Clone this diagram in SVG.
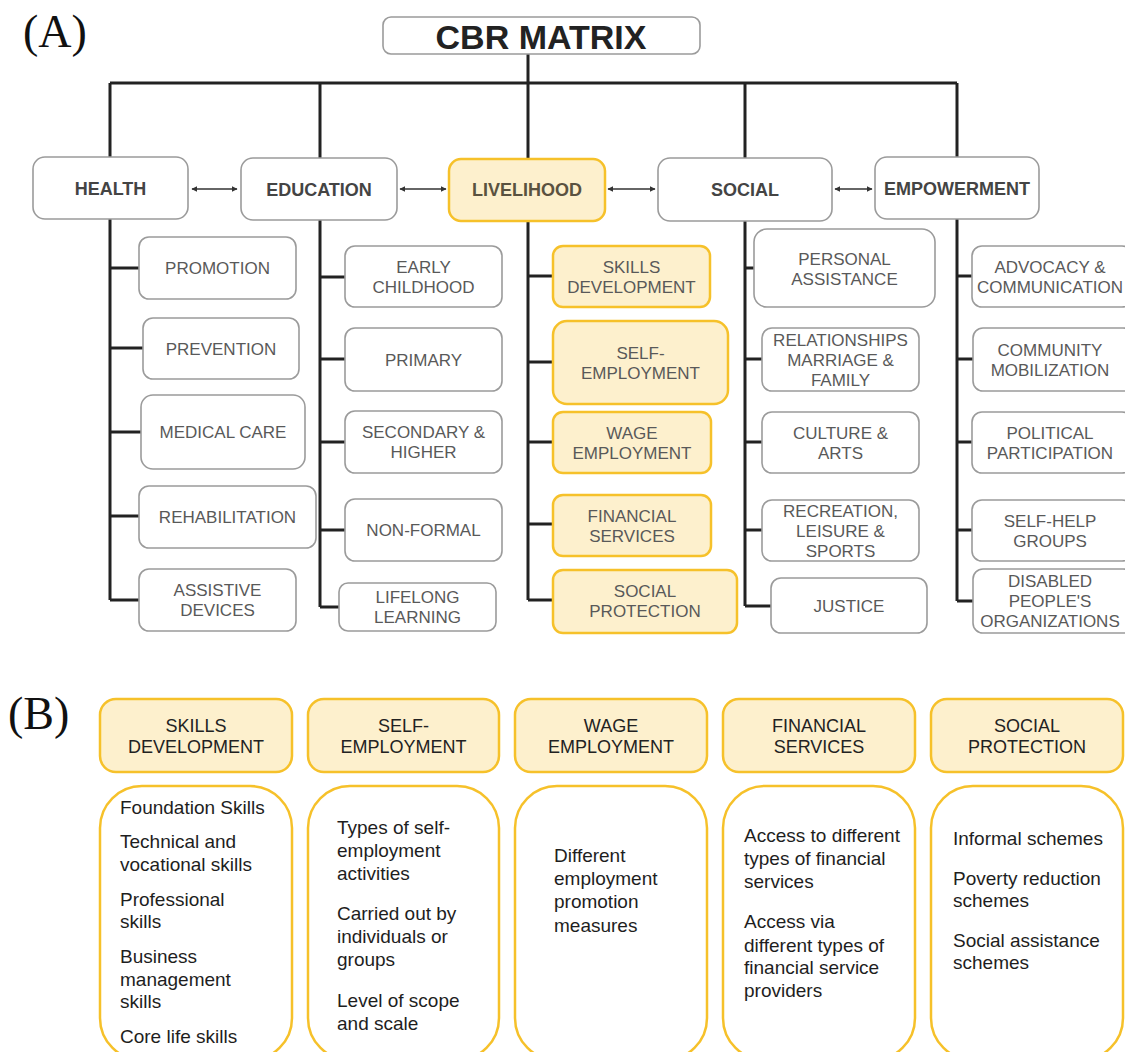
<svg xmlns="http://www.w3.org/2000/svg" width="1125" height="1052" viewBox="0 0 1125 1052">
<defs>
<marker id="ah" viewBox="0 0 10 10" refX="9" refY="5" markerWidth="6" markerHeight="6" orient="auto-start-reverse" markerUnits="userSpaceOnUse">
<path d="M0,0 L10,5 L0,10 z" fill="#333"/>
</marker>
<style>
.box{fill:#fff;stroke:#9b9b9b;stroke-width:1.6}
.ybox{fill:#fdf0cd;stroke:#f6c12a;stroke-width:2.5}
.ybody{fill:#fff;stroke:#f6c12a;stroke-width:2.5}
.cat{font-family:"Liberation Sans",Arial,sans-serif;font-weight:bold;font-size:18px;fill:#444;text-anchor:middle}
.sub{font-family:"Liberation Sans",Arial,sans-serif;font-size:17px;fill:#595959;text-anchor:middle}
.title{font-family:"Liberation Sans",Arial,sans-serif;font-weight:bold;font-size:34px;fill:#222;text-anchor:middle}
.lab{font-family:"Liberation Serif","Times New Roman",serif;font-size:46px;fill:#111}
.bh{font-family:"Liberation Sans",Arial,sans-serif;font-size:18px;fill:#222;text-anchor:middle}
.bt{font-family:"Liberation Sans",Arial,sans-serif;font-size:19px;fill:#1e1e1e}
.ln{stroke:#222;stroke-width:3;fill:none}
.ar{stroke:#333;stroke-width:1.5;fill:none;marker-start:url(#ah);marker-end:url(#ah)}
</style>
</defs>
<rect width="1125" height="1052" fill="#fff"/>

<text class="lab" x="23" y="47">(A)</text>
<text class="lab" x="8" y="729">(B)</text>

<g id="connectors">
<path class="ln" d="M528,54 V83 M110,83 H957 M110,83 V157 M320,83 V158 M528,83 V159 M745,83 V158 M957,83 V157"/>
<path class="ln" d="M110,219 V600 M110,268 H139 M110,348 H143 M110,432 H141 M110,516 H139 M110,600 H139"/>
<path class="ln" d="M320,220 V607 M320,277 H345 M320,359 H345 M320,442 H345 M320,530 H345 M320,607 H339"/>
<path class="ln" d="M528,221 V600 M528,276 H553 M528,362 H553 M528,442 H553 M528,524 H553 M528,600 H553"/>
<path class="ln" d="M745,221 V606 M745,268 H754 M745,359 H762 M745,442 H762 M745,530 H762 M745,606 H771"/>
<path class="ln" d="M957,219 V601 M957,276 H972 M957,359 H973 M957,442 H972 M957,530 H972 M957,601 H973"/>
<line class="ar" x1="192" y1="189" x2="237" y2="189"/>
<line class="ar" x1="400" y1="189" x2="446" y2="189"/>
<line class="ar" x1="608" y1="189" x2="655" y2="189"/>
<line class="ar" x1="835" y1="189" x2="872" y2="189"/>
</g>

<g id="cbr-matrix"><rect class="box" x="383" y="17" width="317" height="37" rx="8"/><text class="title" x="541" y="49">CBR MATRIX</text></g>

<g id="health"><rect class="box" x="33" y="157" width="155" height="62" rx="12"/><text class="cat" x="110.5" y="195">HEALTH</text></g>
<g id="education"><rect class="box" x="241" y="158" width="156" height="62" rx="12"/><text class="cat" x="319" y="196">EDUCATION</text></g>
<g id="livelihood"><rect class="ybox" x="449" y="159" width="156" height="62" rx="12"/><text class="cat" x="527" y="196" style="fill:#5a5240">LIVELIHOOD</text></g>
<g id="social"><rect class="box" x="658" y="158" width="174" height="63" rx="12"/><text class="cat" x="745" y="196">SOCIAL</text></g>
<g id="empowerment"><rect class="box" x="875" y="157" width="164" height="62" rx="12"/><text class="cat" x="957" y="195">EMPOWERMENT</text></g>

<g id="promotion"><rect class="box" x="139" y="237" width="157" height="62" rx="10"/><text class="sub" x="217.5" y="274">PROMOTION</text></g>
<g id="prevention"><rect class="box" x="143" y="318" width="156" height="61" rx="10"/><text class="sub" x="221" y="354.5">PREVENTION</text></g>
<g id="medical-care"><rect class="box" x="141" y="395" width="164" height="74" rx="12"/><text class="sub" x="223" y="438">MEDICAL CARE</text></g>
<g id="rehabilitation"><rect class="box" x="139" y="486" width="177" height="62" rx="10"/><text class="sub" x="227.5" y="523">REHABILITATION</text></g>
<g id="assistive-devices"><rect class="box" x="139" y="569" width="157" height="62" rx="10"/><text class="sub" x="217.5" y="596">ASSISTIVE</text><text class="sub" x="217.5" y="616">DEVICES</text></g>

<g id="early-childhood"><rect class="box" x="345" y="246" width="157" height="61" rx="10"/><text class="sub" x="423.5" y="273">EARLY</text><text class="sub" x="423.5" y="293">CHILDHOOD</text></g>
<g id="primary"><rect class="box" x="345" y="328" width="157" height="63" rx="10"/><text class="sub" x="423.5" y="365.5">PRIMARY</text></g>
<g id="secondary-higher"><rect class="box" x="345" y="411" width="157" height="62" rx="10"/><text class="sub" x="423.5" y="438">SECONDARY &amp;</text><text class="sub" x="423.5" y="458">HIGHER</text></g>
<g id="non-formal"><rect class="box" x="345" y="499" width="157" height="62" rx="10"/><text class="sub" x="423.5" y="536">NON-FORMAL</text></g>
<g id="lifelong-learning"><rect class="box" x="339" y="583" width="157" height="48" rx="9"/><text class="sub" x="417.5" y="603">LIFELONG</text><text class="sub" x="417.5" y="623">LEARNING</text></g>

<g id="skills-development"><rect class="ybox" x="553" y="246" width="157" height="61" rx="10"/><text class="sub" x="631.5" y="273">SKILLS</text><text class="sub" x="631.5" y="293">DEVELOPMENT</text></g>
<g id="self-employment"><rect class="ybox" x="553" y="321" width="175" height="83" rx="14"/><text class="sub" x="640.5" y="359">SELF-</text><text class="sub" x="640.5" y="379">EMPLOYMENT</text></g>
<g id="wage-employment"><rect class="ybox" x="553" y="412" width="158" height="61" rx="10"/><text class="sub" x="632" y="439">WAGE</text><text class="sub" x="632" y="459">EMPLOYMENT</text></g>
<g id="financial-services"><rect class="ybox" x="553" y="495" width="158" height="61" rx="10"/><text class="sub" x="632" y="522">FINANCIAL</text><text class="sub" x="632" y="542">SERVICES</text></g>
<g id="social-protection"><rect class="ybox" x="553" y="570" width="184" height="63" rx="10"/><text class="sub" x="645" y="597">SOCIAL</text><text class="sub" x="645" y="617">PROTECTION</text></g>

<g id="personal-assistance"><rect class="box" x="754" y="229" width="181" height="78" rx="13"/><text class="sub" x="844.5" y="265">PERSONAL</text><text class="sub" x="844.5" y="285">ASSISTANCE</text></g>
<g id="relationships"><rect class="box" x="762" y="328" width="157" height="63" rx="10"/><text class="sub" x="840.5" y="346">RELATIONSHIPS</text><text class="sub" x="840.5" y="366">MARRIAGE &amp;</text><text class="sub" x="840.5" y="386">FAMILY</text></g>
<g id="culture-arts"><rect class="box" x="762" y="412" width="157" height="61" rx="10"/><text class="sub" x="840.5" y="439">CULTURE &amp;</text><text class="sub" x="840.5" y="459">ARTS</text></g>
<g id="recreation"><rect class="box" x="762" y="500" width="157" height="61" rx="10"/><text class="sub" x="840.5" y="517">RECREATION,</text><text class="sub" x="840.5" y="537">LEISURE &amp;</text><text class="sub" x="840.5" y="557">SPORTS</text></g>
<g id="justice"><rect class="box" x="771" y="578" width="156" height="55" rx="10"/><text class="sub" x="849" y="611.5">JUSTICE</text></g>

<g id="advocacy"><rect class="box" x="972" y="246" width="160" height="61" rx="10"/><text class="sub" x="1050" y="273">ADVOCACY &amp;</text><text class="sub" x="1050" y="293">COMMUNICATION</text></g>
<g id="community-mobilization"><rect class="box" x="973" y="328" width="160" height="63" rx="10"/><text class="sub" x="1050" y="356">COMMUNITY</text><text class="sub" x="1050" y="376">MOBILIZATION</text></g>
<g id="political-participation"><rect class="box" x="972" y="412" width="160" height="61" rx="10"/><text class="sub" x="1050" y="439">POLITICAL</text><text class="sub" x="1050" y="459">PARTICIPATION</text></g>
<g id="self-help-groups"><rect class="box" x="972" y="500" width="160" height="61" rx="10"/><text class="sub" x="1050" y="527">SELF-HELP</text><text class="sub" x="1050" y="547">GROUPS</text></g>
<g id="dpo"><rect class="box" x="973" y="569" width="160" height="64" rx="10"/><text class="sub" x="1050" y="587">DISABLED</text><text class="sub" x="1050" y="607">PEOPLE'S</text><text class="sub" x="1050" y="627">ORGANIZATIONS</text></g>

<g id="b-skills">
<rect class="ybox" x="100" y="699" width="192" height="73" rx="16"/>
<text class="bh" x="196" y="732">SKILLS</text><text class="bh" x="196" y="753">DEVELOPMENT</text>
<rect class="ybody" x="100" y="786" width="192" height="274" rx="42"/>
<text class="bt" x="120" y="814">Foundation Skills</text>
<text class="bt" x="120" y="848">Technical and</text>
<text class="bt" x="120" y="871">vocational skills</text>
<text class="bt" x="120" y="906">Professional</text>
<text class="bt" x="120" y="928">skills</text>
<text class="bt" x="120" y="963">Business</text>
<text class="bt" x="120" y="986">management</text>
<text class="bt" x="120" y="1008">skills</text>
<text class="bt" x="120" y="1043">Core life skills</text>
</g>
<g id="b-self">
<rect class="ybox" x="308" y="699" width="191" height="73" rx="16"/>
<text class="bh" x="403.5" y="732">SELF-</text><text class="bh" x="403.5" y="753">EMPLOYMENT</text>
<rect class="ybody" x="308" y="786" width="191" height="274" rx="42"/>
<text class="bt" x="337" y="834">Types of self-</text>
<text class="bt" x="337" y="857">employment</text>
<text class="bt" x="337" y="880">activities</text>
<text class="bt" x="337" y="920">Carried out by</text>
<text class="bt" x="337" y="943">individuals or</text>
<text class="bt" x="337" y="966">groups</text>
<text class="bt" x="337" y="1007">Level of scope</text>
<text class="bt" x="337" y="1030">and scale</text>
</g>
<g id="b-wage">
<rect class="ybox" x="515" y="699" width="192" height="73" rx="16"/>
<text class="bh" x="611" y="732">WAGE</text><text class="bh" x="611" y="753">EMPLOYMENT</text>
<rect class="ybody" x="515" y="786" width="192" height="274" rx="42"/>
<text class="bt" x="554" y="862">Different</text>
<text class="bt" x="554" y="885">employment</text>
<text class="bt" x="554" y="908">promotion</text>
<text class="bt" x="554" y="932">measures</text>
</g>
<g id="b-financial">
<rect class="ybox" x="723" y="699" width="192" height="73" rx="16"/>
<text class="bh" x="819" y="732">FINANCIAL</text><text class="bh" x="819" y="753">SERVICES</text>
<rect class="ybody" x="723" y="786" width="192" height="274" rx="42"/>
<text class="bt" x="744" y="842">Access to different</text>
<text class="bt" x="744" y="865">types of financial</text>
<text class="bt" x="744" y="888">services</text>
<text class="bt" x="744" y="928">Access via</text>
<text class="bt" x="744" y="952">different types of</text>
<text class="bt" x="744" y="974">financial service</text>
<text class="bt" x="744" y="997">providers</text>
</g>
<g id="b-social">
<rect class="ybox" x="931" y="699" width="192" height="73" rx="16"/>
<text class="bh" x="1027" y="732">SOCIAL</text><text class="bh" x="1027" y="753">PROTECTION</text>
<rect class="ybody" x="931" y="786" width="192" height="274" rx="42"/>
<text class="bt" x="953" y="845">Informal schemes</text>
<text class="bt" x="953" y="885">Poverty reduction</text>
<text class="bt" x="953" y="907">schemes</text>
<text class="bt" x="953" y="947">Social assistance</text>
<text class="bt" x="953" y="969">schemes</text>
</g>
</svg>
